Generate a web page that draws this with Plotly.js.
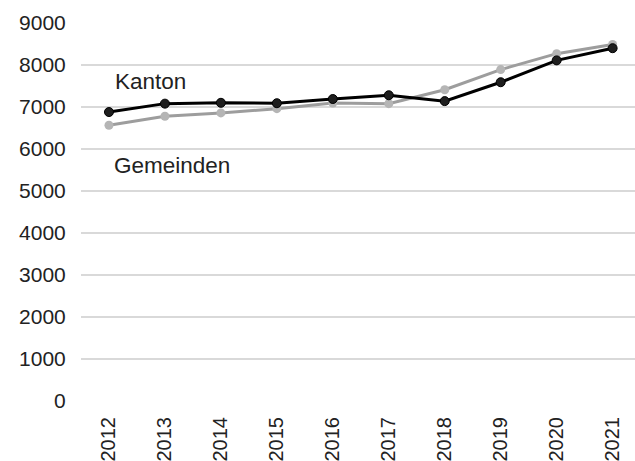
<!DOCTYPE html>
<html>
<head>
<meta charset="utf-8">
<script src="https://cdn.plot.ly/plotly-3.0.1.min.js"></script>
<style>html,body{margin:0;padding:0;background:#fff;}#chart{width:635px;height:461px;}</style>
</head>
<body>
<div id="chart"></div>
<script>
var years = ["2012","2013","2014","2015","2016","2017","2018","2019","2020","2021"];
var kanton = [6880, 7080, 7100, 7090, 7190, 7280, 7140, 7590, 8110, 8400];
var gemeinden = [6565, 6780, 6860, 6960, 7095, 7080, 7410, 7890, 8270, 8490];
var yTicks = [0,1000,2000,3000,4000,5000,6000,7000,8000,9000];

var traces = [
  {x: years, y: gemeinden, type: 'scatter', mode: 'lines+markers', name: 'Gemeinden',
   line: {color: '#9d9d9d', width: 3}, marker: {color: '#b5b5b5', size: 9}},
  {x: years, y: kanton, type: 'scatter', mode: 'lines+markers', name: 'Kanton',
   line: {color: '#000000', width: 3}, marker: {color: '#1e1e1e', size: 9, line: {color: '#000', width: 1}}}
];

var layout = {
  width: 635, height: 461,
  margin: {l: 81, r: 0, t: 23, b: 60},
  paper_bgcolor: '#fff', plot_bgcolor: '#fff',
  showlegend: false,
  font: {family: '"Liberation Sans", Arial, sans-serif', size: 21, color: '#222'},
  xaxis: {type: 'category', range: [-0.5, 9.4], tickangle: -90, showgrid: false, zeroline: false,
          showline: false, ticks: 'outside', ticklen: 7, tickcolor: 'rgba(0,0,0,0)',
          tickfont: {size: 20, color: '#222'}},
  yaxis: {range: [0, 9000], tickvals: yTicks, ticktext: yTicks.map(String), showgrid: true,
          gridcolor: '#d9d9d9', gridwidth: 1.5, zeroline: false, showline: false,
          ticks: 'outside', ticklen: 10, tickcolor: 'rgba(0,0,0,0)', tickfont: {size: 21, color: '#222'}},
  annotations: [
    {text: 'Kanton', xref: 'paper', yref: 'paper', x: (113-81)/554, y: (461-60-82)/378,
     xanchor: 'left', yanchor: 'middle', showarrow: false, font: {size: 22.5, color: '#222'}},
    {text: 'Gemeinden', xref: 'paper', yref: 'paper', x: (112-81)/554, y: (461-60-165)/378,
     xanchor: 'left', yanchor: 'middle', showarrow: false, font: {size: 22.5, color: '#222'}}
  ]
};
Plotly.newPlot('chart', traces, layout, {displayModeBar: false, staticPlot: true});
</script>
</body>
</html>
